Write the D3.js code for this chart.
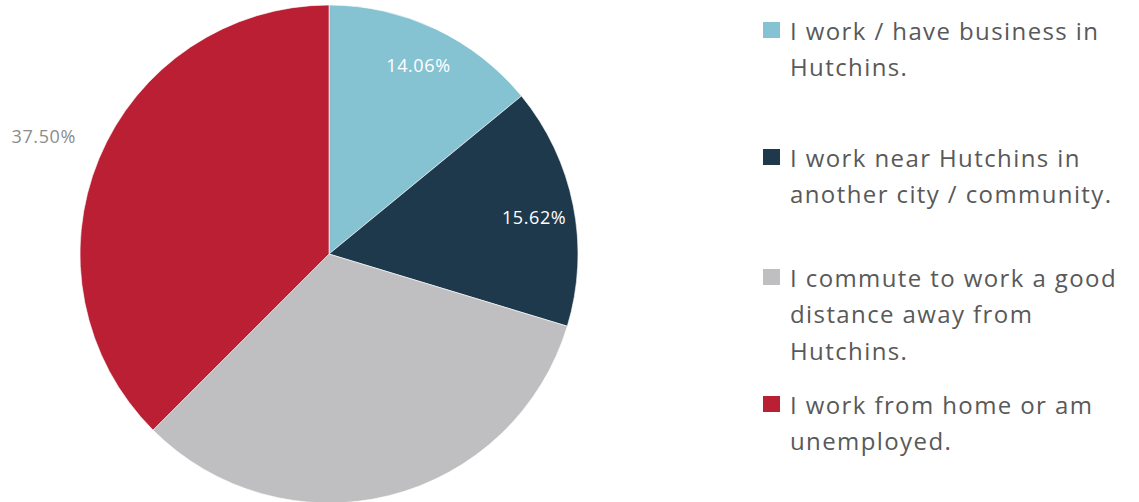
<!DOCTYPE html>
<html>
<head>
<meta charset="utf-8">
<script src="https://cdn.jsdelivr.net/npm/d3@7"></script>
<style>
  html, body { margin: 0; padding: 0; background: #ffffff; }
  svg { display: block; }
</style>
</head>
<body>
<svg id="chart" width="1139" height="502"></svg>
<script>
const categories = [
  ["I work / have business in", "Hutchins."],
  ["I work near Hutchins in", "another city / community."],
  ["I commute to work a good", "distance away from", "Hutchins."],
  ["I work from home or am", "unemployed."]
];
const values = [14.06, 15.62, 32.81, 37.50];
const valueLabels = ["14.06%", "15.62%", "", "37.50%"];
const colors = ["#86C3D2", "#1F394C", "#BFBFC1", "#BA1F33"];

const svg = d3.select("#chart");
const cx = 329, cy = 254, R = 249;

const pie = d3.pie().sort(null).value(d => d);
const arcs = pie(values);
const arc = d3.arc().innerRadius(0).outerRadius(R);

const g = svg.append("g").attr("transform", `translate(${cx},${cy})`);
g.selectAll("path.slice")
  .data(arcs)
  .join("path")
  .attr("class", "slice")
  .attr("d", arc)
  .attr("fill", (d, i) => colors[i])
  .attr("stroke", "#ffffff")
  .attr("stroke-width", 0.6);

const insideArc = d3.arc().innerRadius(R * 0.84).outerRadius(R * 0.84);
const outsideArc = d3.arc().innerRadius(R * 1.24).outerRadius(R * 1.24);

g.selectAll("text.val")
  .data(arcs.filter((d, i) => valueLabels[i] !== ""))
  .join("text")
  .attr("class", "val")
  .attr("transform", d => {
    const inside = d.index < 2;
    const p = inside ? insideArc.centroid(d) : outsideArc.centroid(d);
    const shiftY = d.index === 1 ? 4 : 0;
    return `translate(${p[0]},${p[1] + shiftY})`;
  })
  .attr("text-anchor", "middle")
  .attr("dominant-baseline", "central")
  .attr("font-family", "'Open Sans', 'Noto Sans', sans-serif")
  .attr("font-size", 18)
  .attr("letter-spacing", 0.6)
  .attr("fill", d => d.index < 2 ? "#ffffff" : "#8c8c8c")
  .text(d => valueLabels[d.index]);

// Legend
const legendX = 763, textX = 790;
const itemTops = [30, 157, 277, 404];
const lineH = 36.5;
const legend = svg.append("g").attr("class", "legend");
categories.forEach((lines, i) => {
  legend.append("rect")
    .attr("x", legendX)
    .attr("y", itemTops[i] - 8)
    .attr("width", 17)
    .attr("height", 16)
    .attr("fill", colors[i]);
  const t = legend.append("text")
    .attr("font-family", "'Open Sans', 'Noto Sans', sans-serif")
    .attr("font-size", 24)
    .attr("letter-spacing", 1.4)
    .attr("fill", "#595959");
  lines.forEach((ln, j) => {
    t.append("tspan")
      .attr("x", textX)
      .attr("y", itemTops[i] + j * lineH)
      .attr("dominant-baseline", "central")
      .text(ln);
  });
});
</script>
</body>
</html>
